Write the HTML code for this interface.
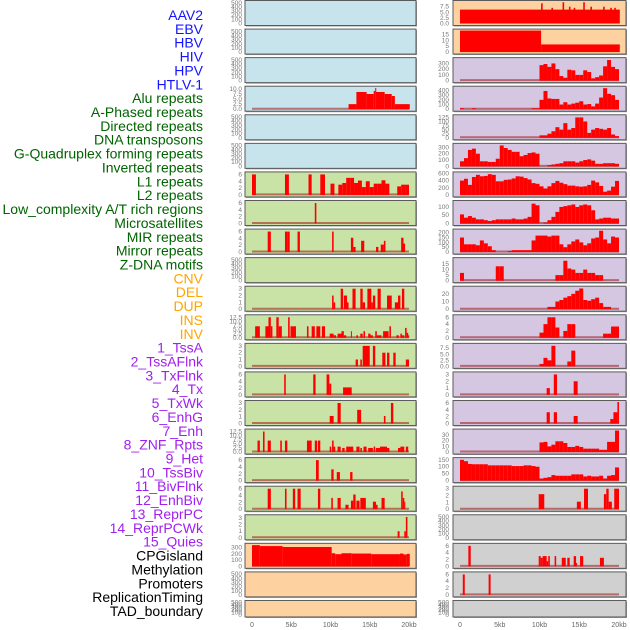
<!DOCTYPE html>
<html><head><meta charset="utf-8"><style>
html,body{margin:0;padding:0;background:#fff;width:630px;height:630px;overflow:hidden}
svg text{font-family:"Liberation Sans",sans-serif}
</style></head><body>
<svg id="chart" width="630" height="630" xmlns="http://www.w3.org/2000/svg"></svg>
<script>
// ---------- labels ----------
const trackLabels = ["AAV2","EBV","HBV","HIV","HPV","HTLV-1","Alu repeats","A-Phased repeats","Directed repeats","DNA transposons","G-Quadruplex forming repeats","Inverted repeats","L1 repeats","L2 repeats","Low_complexity A/T rich regions","Microsatellites","MIR repeats","Mirror repeats","Z-DNA motifs","CNV","DEL","DUP","INS","INV","1_TssA","2_TssAFlnk","3_TxFlnk","4_Tx","5_TxWk","6_EnhG","7_Enh","8_ZNF_Rpts","9_Het","10_TssBiv","11_BivFlnk","12_EnhBiv","13_ReprPC","14_ReprPCWk","15_Quies","CPGisland","Methylation","Promoters","ReplicationTiming","TAD_boundary"];
const labelGroups = [6,13,5,15,5];
const labelColors = ["#1414ff","#006400","#ffa500","#a020f0","#000000"];
const xTickValues = [0,5,10,15,20];
const xTickLabels = ["0","5kb","10kb","15kb","20kb"];

// ---------- left column data ([startKb,endKb,value] bars or 0.5kb bins) ----------
const L4bars = [[12.3,13.3,2.5],[13.3,14.6,8.5],[14.6,15.5,7.5],[15.5,15.7,9],[15.7,15.8,10.5],[15.8,16.9,8.5],[16.9,17.8,7.5],[17.8,18.2,6.5],[18.2,20.1,2.5]];
const L7bars = [[0,0.5,6],[4.2,4.7,6],[7.2,7.6,6],[8.7,9.3,6]];
const L7bins = [0,0,0,0,0,0,0,0,0,0,0,0,0,0,0,0,0,0,0,0,3.3,0,3,3.5,5,5,3.5,4.2,2.3,4,2.3,3.3,3.3,4.3,3.3,0,0,2.5,3,3];
const L8bars = [[8.0,8.2,6]];
const L9bars = [[2.0,2.4,6],[4.2,4.5,6],[4.5,4.8,6],[5.8,6.1,6],[10.2,10.4,6],[12.6,12.9,4.2],[12.9,13.2,1.5],[13.9,14.3,3.3],[15.8,16.1,1.5],[16.4,16.8,2.2],[16.8,17.0,3.3],[19.0,19.3,4.2],[19.3,19.5,2.5]];
const L11bars = [[10.2,10.4,2],[10.4,10.6,1],[11.3,11.6,3],[11.7,12.1,2],[12.1,12.3,1],[12.8,13.2,3],[13.8,14.1,3],[14.1,14.4,1],[14.7,15.2,3],[15.2,15.4,1],[15.4,15.7,2],[16.0,16.4,3],[17.2,17.8,2],[18.2,18.6,1],[18.6,18.9,2],[19.1,19.4,3]];
const L12bars = [[0.4,1.0,7],[1.7,2.1,7],[2.1,2.4,12.5],[2.4,2.6,7],[3.1,3.4,12.5],[3.4,3.8,7],[4.6,4.8,12.5],[4.9,5.6,7],[7.0,7.2,7],[7.6,8.0,7],[8.2,8.7,7],[8.9,9.3,7],[9.9,10.4,2.5],[10.4,10.7,1.5],[10.9,11.4,2.5],[11.4,11.7,4],[11.7,12.0,1.5],[12.6,12.7,4],[13.3,13.5,1.5],[13.8,14.1,2.5],[14.2,14.4,4],[14.8,15.1,2.5],[15.1,15.4,1.5],[15.7,15.9,4],[15.9,16.5,1.5],[16.7,17.4,4],[17.5,17.7,7],[18.4,18.7,1.5],[18.9,19.1,2.5],[19.1,19.4,1.5],[19.5,19.7,6],[19.7,19.9,3],[19.9,20.0,1.5]];
const L13bars = [[13.2,13.5,1],[13.8,14.0,1],[14.1,15.0,3],[15.4,15.7,3],[16.6,17.0,2],[17.2,17.5,2],[18.0,18.3,2],[19.6,20.0,1]];
const L14bars = [[4.1,4.3,6],[7.8,8.1,6],[9.5,9.85,6],[9.85,10.1,3.3],[11.6,12.7,2.2]];
const L15bars = [[9.9,10.4,1.1],[10.9,11.3,3],[13.4,13.9,2],[16.8,17.0,1.1],[17.7,18.0,3]];
const L16bars = [[0.7,1.0,7],[1.4,1.6,12.5],[2.0,2.4,7],[3.6,3.8,7],[4.2,4.5,7],[7.0,7.6,7],[8.0,8.3,7],[8.4,8.7,7],[9.9,10.1,3.3],[10.2,10.4,7],[10.4,10.6,3.3],[10.9,11.3,3.3],[11.5,11.8,2.5],[12.0,12.9,3.3],[13.3,13.7,3.3],[13.8,14.0,2.5],[14.2,14.6,3.3],[14.8,15.4,2.5],[15.5,15.7,3.3],[15.8,16.3,2.5],[16.3,17.2,3.3],[17.2,17.5,2.5],[18.6,18.9,2.5],[18.9,19.4,3.3],[19.6,19.9,3.3]];
const L17bars = [[8.15,8.5,6],[10.1,10.4,3.3],[10.8,11.2,2.5],[12.5,12.8,2.5]];
const L18bars = [[2.0,2.4,6],[4.2,4.4,6],[5.2,5.5,6],[5.8,6.2,6],[8.4,8.7,6],[10.1,10.3,3.3],[10.9,11.3,3.3],[11.9,12.3,1.3],[12.6,12.9,2.5],[12.9,13.2,4.3],[13.3,13.7,2.5],[13.8,14.5,3.3],[15.4,15.8,2.2],[15.8,16.0,1.3],[16.5,16.9,3.3],[19.0,19.2,5.2],[19.2,19.4,3.3],[19.4,19.5,2.2]];
const L19bars = [[18.55,18.8,1],[19.4,19.6,1],[19.6,19.8,3.2]];
const L20bars = [[0,1.0,340],[1.0,3.9,325],[3.9,10.15,310],[10.15,10.6,210],[10.6,11.4,195],[11.4,12.7,210],[12.7,15.2,205],[15.2,18.85,195],[18.85,19.3,205],[19.3,19.7,190],[19.7,20.1,200]];

// ---------- right column data ----------
const R1bars = [[0,20.1,6.2],[10.2,10.4,9],[11.5,11.7,7],[12.9,13.1,9.5],[13.7,13.9,7.5],[14.3,14.5,7],[15.5,15.7,9.5],[16.4,16.6,7.5],[18.0,18.2,7.5],[18.9,19.1,7],[19.4,19.6,7]];
const R2bars = [[0,10.2,18.3],[10.2,20.1,6.5]];
const R3bins = [0,0,0,0,0,0,0,0,0,0,0,0,0,0,0,0,0,0,0,0,270,290,240,300,200,80,50,190,180,100,100,180,150,40,60,90,250,360,240,200];
const R4bins = [20,0,0,20,0,0,0,0,0,0,0,0,0,0,0,0,0,0,20,20,200,390,230,220,220,100,150,100,120,140,170,100,110,60,120,250,450,330,300,200];
const R5bins = [0,0,0,0,0,0,0,0,0,0,0,0,0,0,0,0,0,0,0,0,15,15,25,40,65,50,90,50,60,125,125,100,30,50,60,55,50,60,20,10];
const R6bins = [80,130,260,280,200,80,80,70,70,120,330,290,260,230,230,160,180,210,220,200,0,0,20,30,40,50,80,80,80,60,80,100,110,90,40,40,50,50,50,40];
const R7bins = [400,450,280,500,560,520,530,580,560,380,380,420,430,460,520,510,470,430,330,310,240,180,240,330,390,340,300,260,260,240,230,240,280,400,350,250,90,120,230,390];
const R8bins = [55,35,45,35,25,25,20,15,20,25,25,25,25,30,25,25,30,40,120,110,0,5,20,40,70,100,105,110,115,100,110,115,110,80,25,30,35,35,30,30];
const R9bins = [150,80,80,80,70,120,90,60,20,0,0,0,10,20,20,20,20,20,120,170,170,170,160,170,170,80,50,80,110,130,100,70,90,140,150,220,130,90,160,150];
const R10bins = [7,0,0,0,0,0,0,0,0,13,13,0,0,0,0,0,0,0,0,0,0,0,0,0,5,5,18,11,10,7,7,10,7,7,5,5,0,0,0,0];
const R11bins = [0,0,0,0,0,0,0,0,0,0,0,0,0,0,0,0,0,0,0,0,0,0,3,3,10,12,15,17,20,24,27,12,11,13,15,8,3,3,0,0];
const R12bins = [0,0,0,0,0,0,0,0,0,0,0,0,0,0,0,0,0,0,0,0,1.5,4,6,6,3,0,2,4,4,0,0,0,0,0,0,0,1.2,1.2,3.3,3.3];
const R13bins = [0,0,0,0,0,0,0,0,0,0,0,0,0,0,0,0,0,0,0,0,1,3.5,2.5,8.5,0,0,0,2,6.5,0,0,0,0,0,0,0,0,0,0,0];
const R14bars = [[10.9,11.3,1],[11.8,12.2,3],[14.3,14.8,2]];
const R15bars = [[10.9,11.3,3.3],[11.8,12.2,3.3],[14.3,14.8,2.2],[18.9,19.3,1.3],[19.3,19.8,3.3],[19.8,20.0,6.3]];
const R16bins = [0,0,0,0,0,0,0,0,0,0,0,0,0,0,0,0,0,0,0,0,17,18,10,13,19,19,16,9,9,11,9,6,6,6,6,4,4,18,18,38];
const R17bins = [150,140,120,118,118,118,118,110,110,110,110,110,110,105,105,105,110,110,105,100,15,20,25,40,35,35,35,35,45,45,45,30,35,30,30,35,15,35,40,95];
const R18bars = [[9.9,10.6,2.2],[14.7,15.2,1.1],[15.6,16.1,3],[18.1,18.4,2.2],[18.4,18.7,3],[18.7,19.1,1.1],[19.4,20.0,3]];
const R20bars = [[1.05,1.35,6],[9.9,10.15,3],[10.15,10.4,2.5],[10.4,10.9,3],[10.9,11.1,1.5],[11.1,11.3,3],[11.9,12.1,3],[12.8,13.3,2.5],[13.5,13.8,2.5],[14.3,14.6,3],[14.6,14.7,1],[15.1,15.5,3],[17.6,18.1,2.5]];
const R21bars = [[0.35,0.6,6],[3.6,3.85,6]];

// ---------- panel configuration (y ticks, y max, background, series) ----------
const BLUE="#c7e3eb",GREEN="#c9e2a6",PEACH="#fdd1a0",PURP="#d5c6e2",GRAY="#d0d0d0";
const T500=[0,100,200,300,400,500];
const leftPanels = [
 {bg:BLUE,ticks:T500,ymax:520,bars:null},
 {bg:BLUE,ticks:T500,ymax:520,bars:null},
 {bg:BLUE,ticks:T500,ymax:520,bars:null},
 {bg:BLUE,ticks:[0,2.5,5,7.5,10],lab:["0.0","2.5","5.0","7.5","10.0"],ymax:10.6,bars:L4bars},
 {bg:BLUE,ticks:T500,ymax:520,bars:null},
 {bg:BLUE,ticks:T500,ymax:520,bars:null},
 {bg:GREEN,ticks:[0,2,4,6],ymax:6.3,bars:L7bars,bins:L7bins},
 {bg:GREEN,ticks:[0,2,4,6],ymax:6.3,bars:L8bars},
 {bg:GREEN,ticks:[0,2,4,6],ymax:6.3,bars:L9bars},
 {bg:GREEN,ticks:T500,ymax:520,bars:null},
 {bg:GREEN,ticks:[0,1,2,3],ymax:3.15,bars:L11bars},
 {bg:GREEN,ticks:[0,2.5,5,7.5,10,12.5],lab:["0.0","2.5","5.0","7.5","10.0","12.5"],ymax:13.1,bars:L12bars},
 {bg:GREEN,ticks:[0,1,2,3],ymax:3.15,bars:L13bars},
 {bg:GREEN,ticks:[0,2,4,6],ymax:6.3,bars:L14bars},
 {bg:GREEN,ticks:[0,1,2,3],ymax:3.15,bars:L15bars},
 {bg:GREEN,ticks:[0,2.5,5,7.5,10,12.5],lab:["0.0","2.5","5.0","7.5","10.0","12.5"],ymax:13.1,bars:L16bars},
 {bg:GREEN,ticks:[0,2,4,6],ymax:6.3,bars:L17bars},
 {bg:GREEN,ticks:[0,2,4,6],ymax:6.3,bars:L18bars},
 {bg:GREEN,ticks:[0,1,2,3],ymax:3.3,bars:L19bars},
 {bg:PEACH,ticks:[0,100,200,300],ymax:345,bars:L20bars},
 {bg:PEACH,ticks:T500,ymax:520,bars:null},
 {bg:PEACH,ticks:T500,ymax:520,bars:null}
];
const rightPanels = [
 {bg:PEACH,ticks:[0,2.5,5,7.5],lab:["0.0","2.5","5.0","7.5"],ymax:9.6,bars:R1bars,nobase:true},
 {bg:PEACH,ticks:[0,5,10,15],ymax:18.3,bars:R2bars,nobase:true},
 {bg:PURP,ticks:[0,100,200,300],ymax:375,bins:R3bins},
 {bg:PURP,ticks:[0,100,200,300,400],ymax:460,bins:R4bins},
 {bg:PURP,ticks:[0,25,50,75,100,125],ymax:132,bins:R5bins},
 {bg:PURP,ticks:[0,100,200,300],ymax:340,bins:R6bins},
 {bg:PURP,ticks:[0,200,400,600],ymax:600,bins:R7bins},
 {bg:PURP,ticks:[0,50,100],ymax:130,bins:R8bins},
 {bg:PURP,ticks:[0,50,100,150,200],ymax:222,bins:R9bins},
 {bg:PURP,ticks:[0,5,10,15],ymax:19.5,bins:R10bins},
 {bg:PURP,ticks:[0,10,20],ymax:28,bins:R11bins},
 {bg:PURP,ticks:[0,2,4,6],ymax:6.3,bins:R12bins},
 {bg:PURP,ticks:[0,2.5,5,7.5],lab:["0.0","2.5","5.0","7.5"],ymax:8.9,bins:R13bins},
 {bg:PURP,ticks:[0,1,2,3],ymax:3.15,bars:R14bars},
 {bg:PURP,ticks:[0,2,4,6],ymax:6.3,bars:R15bars},
 {bg:PURP,ticks:[0,10,20,30],ymax:38,bins:R16bins},
 {bg:PURP,ticks:[0,50,100,150],ymax:155,bins:R17bins},
 {bg:GRAY,ticks:[0,1,2,3],ymax:3.15,bars:R18bars},
 {bg:GRAY,ticks:T500,ymax:520,bars:null},
 {bg:GRAY,ticks:[0,2,4,6],ymax:6.3,bars:R20bars},
 {bg:GRAY,ticks:[0,2,4,6],ymax:6.3,bars:R21bars},
 {bg:GRAY,ticks:T500,ymax:520,bars:null}
];

const NS="http://www.w3.org/2000/svg";
const svg=document.getElementById("chart");
function mk(tag,attrs,parent){const e=document.createElementNS(NS,tag);for(const k in attrs)e.setAttribute(k,attrs[k]);(parent||svg).appendChild(e);return e;}

// labels
let li=0;
labelGroups.forEach((n,g)=>{for(let k=0;k<n;k++){
  const t=mk("text",{x:203,y:(15+li*13.86+5).toFixed(1),"text-anchor":"end","font-size":"14",fill:labelColors[g]});
  t.textContent=trackLabels[li];
  
  
  li++;}});

function xScaleFactory(x0,perKb){return kb=>x0+kb*perKb;}
const cols=[
 {panels:leftPanels,left:245,right:416,xs:xScaleFactory(252,7.85),tickX:242,name:"left"},
 {panels:rightPanels,left:453,right:626,xs:xScaleFactory(460,7.95),tickX:449,name:"right"}
];
const fmt=v=>String(v);
cols.forEach(col=>{
 col.panels.forEach((p,i)=>{
  const top=i*28.57+0.5, h=(i===21?16.5:25), bot=top+h;
  const g=mk("g",{});
  
  
  mk("rect",{x:col.left+1,y:top+1,width:col.right-col.left,height:h,fill:"#9a9a9a"},g);
  mk("rect",{x:col.left,y:top,width:col.right-col.left,height:h,fill:p.bg,stroke:"#5a5a5a","stroke-width":1},g);
  const ys=v=>bot-2-(v/p.ymax)*(h-3.5);
  // ticks
  p.ticks.forEach((tv,k)=>{
   const t=mk("text",{x:col.tickX,y:(ys(tv)+2).toFixed(1),"text-anchor":"end","font-size":"6.5",fill:"#777"},g);
   t.textContent=p.lab?p.lab[k]:fmt(tv);
   
   
  });
  const hasData=p.bars||p.bins;
  if(!hasData)return;
  if(!p.nobase){
   const bl=mk("line",{x1:col.xs(0),x2:col.xs(20),y1:ys(0)-0.5,y2:ys(0)-0.5,stroke:"rgba(160,20,20,0.55)","stroke-width":2},g);
   
   
  }
  const all=[];
  if(p.bins)p.bins.forEach((v,k)=>{if(v>0)all.push([k*0.5,k*0.5+0.5,v]);});
  if(p.bars)p.bars.forEach(b=>all.push(b));
  all.forEach(b=>{
   const x1=col.xs(b[0]),x2=col.xs(b[1]);
   const r=mk("rect",{x:x1.toFixed(2),y:ys(b[2]).toFixed(2),width:Math.max(1,x2-x1).toFixed(2),height:(ys(0)-ys(b[2])).toFixed(2),fill:"#ff0000"},g);
   
   
  });
 });
 xTickValues.forEach((v,k)=>{
  const t=mk("text",{x:col.xs(v),y:627,"text-anchor":"middle","font-size":"7",fill:"#666"});
  t.textContent=xTickLabels[k];
  
  
 });
});
</script>
</body></html>
